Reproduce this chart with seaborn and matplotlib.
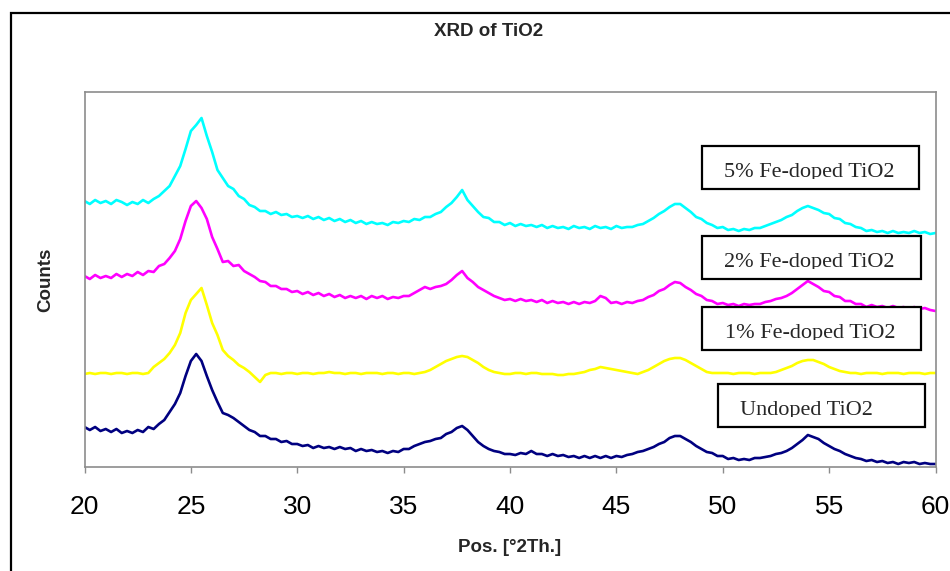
import numpy as np
import pandas as pd
import matplotlib
matplotlib.use("Agg")
import matplotlib.pyplot as plt
from matplotlib.patches import Rectangle
from matplotlib.transforms import Bbox, TransformedBbox
import seaborn as sns

# ---------------- data ----------------
two_theta = np.linspace(20, 60, 161)  # 0.25 deg steps

fe5_counts = [
    266, 263, 267, 264, 266, 263, 267, 265, 262, 265, 263, 267, 264, 268, 271, 276,
    281, 291, 301, 318, 336, 342, 349, 331, 315, 297, 289, 281, 278, 271, 268, 262,
    260, 256, 256, 253, 255, 252, 253, 250, 251, 249, 251, 248, 250, 247, 249, 246,
    248, 245, 247, 244, 246, 243, 245, 243, 244, 242, 245, 244, 246, 245, 248, 247,
    250, 250, 253, 255, 260, 264, 270, 277, 267, 261, 255, 250, 249, 245, 245, 242,
    244, 241, 243, 241, 242, 240, 242, 239, 241, 239, 240, 238, 241, 239, 240, 238,
    241, 239, 240, 238, 241, 239, 240, 240, 242, 243, 246, 249, 253, 256, 260, 263,
    263, 259, 255, 250, 248, 244, 242, 239, 240, 237, 238, 236, 238, 237, 239, 239,
    241, 243, 245, 247, 250, 252, 256, 259, 261, 259, 257, 254, 253, 249, 248, 244,
    243, 240, 239, 236, 237, 235, 236, 234, 236, 234, 235, 234, 236, 234, 235, 233,
    234,
]

fe2_counts = [
    191, 188, 192, 189, 191, 189, 193, 190, 193, 191, 195, 192, 196, 195, 201, 203,
    209, 216, 228, 246, 261, 266, 259, 248, 230, 218, 205, 206, 201, 202, 196, 193,
    190, 186, 185, 181, 181, 178, 178, 175, 176, 173, 175, 172, 174, 171, 173, 170,
    172, 169, 171, 169, 171, 168, 171, 169, 171, 168, 170, 169, 171, 171, 174, 177,
    180, 178, 180, 181, 183, 187, 192, 196, 189, 185, 180, 177, 174, 171, 169, 167,
    168, 166, 168, 166, 167, 165, 167, 164, 166, 164, 165, 163, 165, 163, 165, 164,
    166, 171, 169, 164, 165, 163, 165, 164, 166, 167, 170, 172, 176, 178, 182, 185,
    184, 180, 177, 173, 171, 167, 166, 163, 164, 162, 163, 161, 163, 162, 163, 163,
    165, 166, 168, 169, 171, 174, 178, 182, 186, 183, 180, 176, 175, 171, 170, 166,
    166, 163, 163, 160, 162, 160, 161, 159, 161, 159, 160, 158, 160, 158, 159, 157,
    156,
]

fe1_counts = [
    93, 94, 93, 94, 94, 93, 94, 94, 93, 94, 94, 93, 94, 100, 104, 108,
    114, 122, 134, 154, 167, 173, 179, 162, 144, 132, 117, 111, 107, 102, 99, 95,
    90, 85, 92, 94, 94, 93, 94, 94, 93, 94, 94, 93, 94, 94, 95, 94,
    94, 93, 94, 94, 93, 94, 94, 94, 93, 94, 94, 93, 94, 94, 93, 94,
    95, 97, 100, 103, 106, 108, 110, 111, 110, 107, 104, 100, 97, 95, 94, 93,
    93, 94, 94, 93, 94, 94, 93, 93, 93, 92, 92, 93, 93, 94, 95, 97,
    98, 100, 99, 98, 97, 96, 95, 94, 93, 95, 97, 100, 103, 106, 108, 109,
    109, 107, 104, 101, 98, 95, 94, 94, 94, 94, 93, 94, 94, 94, 93, 94,
    94, 94, 95, 97, 99, 101, 104, 106, 107, 107, 105, 103, 100, 98, 96, 95,
    94, 94, 93, 94, 94, 94, 93, 94, 94, 94, 93, 94, 94, 94, 93, 94,
    94,
]

undoped_counts = [
    40, 37, 40, 36, 38, 35, 38, 34, 36, 34, 37, 35, 40, 38, 43, 47,
    55, 63, 74, 91, 106, 113, 106, 91, 77, 65, 54, 52, 49, 45, 41, 37,
    35, 31, 31, 28, 28, 25, 26, 23, 23, 21, 22, 19, 21, 19, 20, 18,
    20, 18, 19, 16, 18, 16, 17, 15, 16, 14, 16, 15, 18, 18, 21, 23,
    25, 26, 28, 29, 33, 35, 39, 41, 37, 31, 25, 21, 18, 16, 15, 13,
    13, 12, 14, 13, 16, 13, 13, 11, 13, 11, 12, 10, 11, 9, 11, 9,
    11, 9, 11, 9, 11, 10, 12, 13, 15, 16, 18, 20, 23, 25, 29, 31,
    31, 28, 25, 21, 18, 15, 14, 11, 11, 8, 9, 7, 8, 7, 9, 9,
    10, 11, 13, 14, 16, 19, 23, 27, 32, 30, 28, 24, 21, 18, 16, 13,
    11, 9, 8, 6, 7, 5, 6, 4, 5, 3, 5, 4, 5, 3, 4, 3,
    3,
]

series_names = ["5% Fe-doped TiO2", "2% Fe-doped TiO2", "1% Fe-doped TiO2", "Undoped TiO2"]
series_values = [fe5_counts, fe2_counts, fe1_counts, undoped_counts]
series_colors = ["#00FFFF", "#FF00FF", "#FFFF00", "#000080"]
x_ticks = [20, 25, 30, 35, 40, 45, 50, 55, 60]

# ---------------- figure ----------------
sns.set_style("white")
plt.rcParams["font.family"] = ["Liberation Sans", "DejaVu Sans"]

W, H = 950, 571
fig = plt.figure(figsize=(W / 100, H / 100), dpi=100)


def fx(px):
    return px / W


def fy(py):
    return 1 - py / H


# outer black frame (clipped at right/bottom like the original)
fig.add_artist(Rectangle((fx(11), -0.2), 1.3, fy(13) + 0.2, transform=fig.transFigure,
                         fill=False, edgecolor="black", linewidth=1.6, zorder=0))

ax = fig.add_axes([fx(84.5), fy(467), (935.5 - 84.5) / W, 375 / H])

frames = []
for name, vals in zip(series_names, series_values):
    frames.append(pd.DataFrame({"pos": two_theta, "counts": vals, "sample": name}))
df = pd.concat(frames, ignore_index=True)

sns.lineplot(data=df, x="pos", y="counts", hue="sample", hue_order=series_names,
             palette=series_colors, linewidth=1.9, legend=False, ax=ax, estimator=None,
             sort=False)

ax.set_xlim(20, 60)
ax.set_ylim(0, 375)
ax.set_xticks(x_ticks)
ax.set_xticklabels([str(t) for t in x_ticks])
ax.set_yticks([])
ax.set_xlabel("")
ax.set_ylabel("")
for sp in ax.spines.values():
    sp.set_visible(True)
    sp.set_color("#8c8c8c")
    sp.set_linewidth(1.2)
ax.tick_params(axis="x", direction="out", length=4, width=1, color="#8c8c8c",
               labelsize=19, labelcolor="black", pad=16, bottom=True)

# titles / labels
fig.text(fx(489), fy(32), "XRD of TiO2", ha="center", va="center",
         fontsize=13.5, fontweight="bold")
fig.text(fx(46), fy(280), "Counts", ha="center", va="center", rotation=90,
         fontsize=13.5, fontweight="bold")
fig.text(fx(510), fy(548), "Pos. [°2Th.]", ha="center", va="center",
         fontsize=13.5, fontweight="bold")

# label boxes: (x0, y0, x1, y1, text centre x, baseline y)
boxes = [
    (702, 146, 919, 189, 809, 177),
    (702, 236, 921, 279, 809, 267),
    (702, 307, 921, 350, 810, 338),
    (718, 384, 925, 427, 806, 415),
]
for (x0, y0, x1, y1, tx, by), name in zip(boxes, series_names):
    fig.add_artist(Rectangle((fx(x0), fy(y1)), (x1 - x0) / W, (y1 - y0) / H,
                             transform=fig.transFigure, facecolor="white",
                             edgecolor="black", linewidth=1.6, zorder=5))
    t = fig.text(fx(tx), fy(by), name, ha="center", va="baseline", fontsize=16,
                 family=["Liberation Serif", "DejaVu Serif"], zorder=6)
    clip = TransformedBbox(Bbox.from_extents(fx(x0), fy(by + 2), fx(x1), fy(y0)),
                           fig.transFigure)
    t.set_clip_box(clip)
    t.set_clip_on(True)

fig.savefig("out.png", dpi=100, facecolor="white")
